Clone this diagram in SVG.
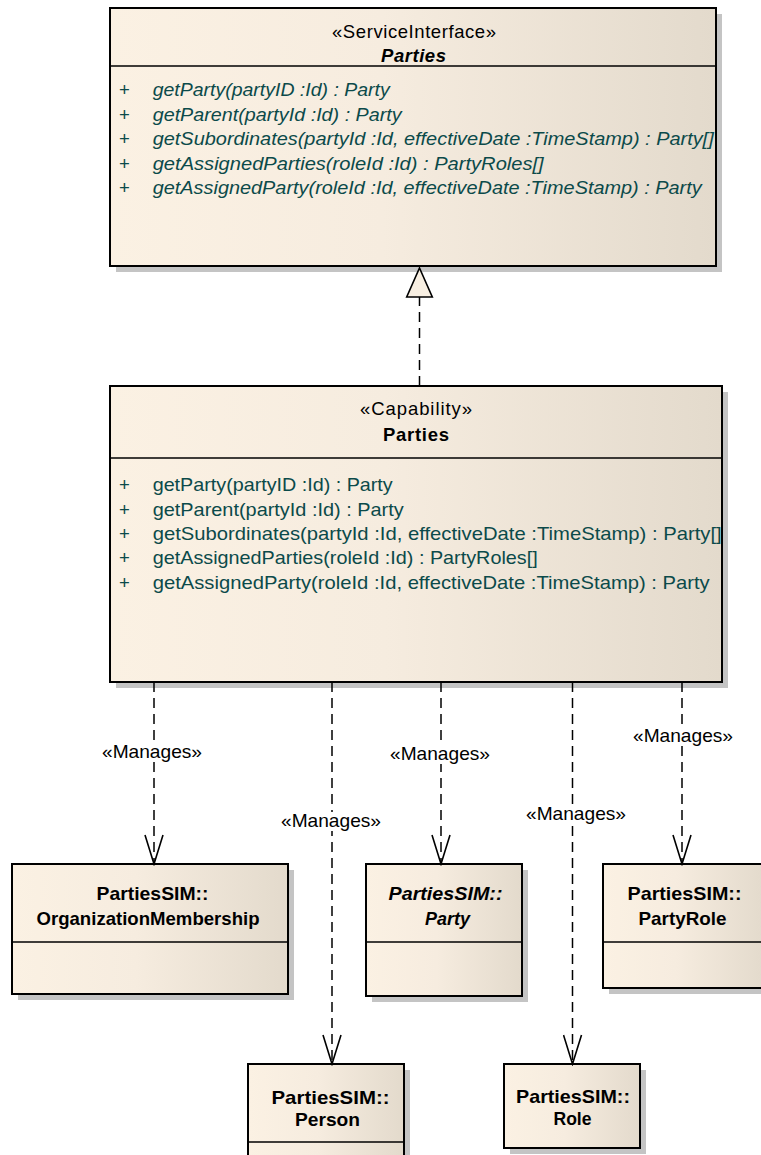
<svg xmlns="http://www.w3.org/2000/svg" width="761" height="1155" viewBox="0 0 761 1155">
<style>
text{font-family:"Liberation Sans",Arial,sans-serif;font-size:18.5px;}
.box{fill:url(#g);stroke:#000;stroke-width:2;}
.sh{fill:#c4c4c4;}
.sep{stroke:#000;stroke-width:1.6;}
.st{fill:#000;text-anchor:middle;}
.nm{fill:#000;text-anchor:middle;font-weight:bold;}
.it{font-style:italic;}
.op{fill:#0b4a4a;}
.pl{fill:#0b4a4a;text-anchor:middle;}
.c{fill:none;stroke:#000;stroke-width:1.5;stroke-dasharray:10,6;}
.lb{fill:#000;text-anchor:middle;}
.bg{fill:#fff;}
</style>
<defs>
<linearGradient id="g" x1="0" y1="0" x2="1" y2="0">
<stop offset="0" stop-color="#fbf1e3"/>
<stop offset="0.45" stop-color="#f6ecdf"/>
<stop offset="1" stop-color="#e3dacc"/>
</linearGradient>
<marker id="open" markerUnits="userSpaceOnUse" markerWidth="22" markerHeight="32" refX="10" refY="30" orient="0" viewBox="0 0 22 32">
<path d="M1,1 L10,30 L19,1" fill="none" stroke="#000" stroke-width="1.6"/>
</marker>
</defs>

<g id="ServiceInterface_Parties">
<rect class="sh" x="116" y="14" width="606" height="258"/>
<rect class="box" x="110" y="8" width="606" height="258"/>
<line class="sep" x1="110" y1="66" x2="716" y2="66"/>
<text class="st" x="414" y="37.5" textLength="164" lengthAdjust="spacing">«ServiceInterface»</text>
<text class="nm it" x="413.5" y="62" textLength="65" lengthAdjust="spacing">Parties</text>
<text class="pl" x="124.5" y="96">+</text>
<text class="pl" x="124.5" y="120.5">+</text>
<text class="pl" x="124.5" y="145">+</text>
<text class="pl" x="124.5" y="169.5">+</text>
<text class="pl" x="124.5" y="194">+</text>
<text class="op it" x="152.7" y="96" textLength="237" lengthAdjust="spacingAndGlyphs">getParty(partyID :Id) : Party</text>
<text class="op it" x="152.7" y="120.5" textLength="249" lengthAdjust="spacingAndGlyphs">getParent(partyId :Id) : Party</text>
<text class="op it" x="152.7" y="145" textLength="561" lengthAdjust="spacingAndGlyphs">getSubordinates(partyId :Id, effectiveDate :TimeStamp) : Party[]</text>
<text class="op it" x="152.7" y="169.5" textLength="391" lengthAdjust="spacingAndGlyphs">getAssignedParties(roleId :Id) : PartyRoles[]</text>
<text class="op it" x="152.7" y="194" textLength="549" lengthAdjust="spacingAndGlyphs">getAssignedParty(roleId :Id, effectiveDate :TimeStamp) : Party</text>
</g>

<g id="Capability_Parties">
<rect class="sh" x="116" y="392" width="612" height="296"/>
<rect class="box" x="110" y="386" width="612" height="296"/>
<line class="sep" x1="110" y1="458" x2="722" y2="458"/>
<text class="st" x="416" y="415" textLength="112" lengthAdjust="spacing">«Capability»</text>
<text class="nm" x="416" y="441" textLength="66" lengthAdjust="spacing">Parties</text>
<text class="pl" x="124.5" y="491">+</text>
<text class="pl" x="124.5" y="515.5">+</text>
<text class="pl" x="124.5" y="540">+</text>
<text class="pl" x="124.5" y="564">+</text>
<text class="pl" x="124.5" y="588.5">+</text>
<text class="op" x="152.7" y="491" textLength="240" lengthAdjust="spacingAndGlyphs">getParty(partyID :Id) : Party</text>
<text class="op" x="152.7" y="515.5" textLength="251" lengthAdjust="spacingAndGlyphs">getParent(partyId :Id) : Party</text>
<text class="op" x="152.7" y="540" textLength="569" lengthAdjust="spacingAndGlyphs">getSubordinates(partyId :Id, effectiveDate :TimeStamp) : Party[]</text>
<text class="op" x="152.7" y="564" textLength="385" lengthAdjust="spacingAndGlyphs">getAssignedParties(roleId :Id) : PartyRoles[]</text>
<text class="op" x="152.7" y="588.5" textLength="557" lengthAdjust="spacingAndGlyphs">getAssignedParty(roleId :Id, effectiveDate :TimeStamp) : Party</text>
</g>

<g id="OrganizationMembership">
<rect class="sh" x="18" y="870" width="276" height="130"/>
<rect class="box" x="12" y="864" width="276" height="130"/>
<line class="sep" x1="12" y1="942" x2="288" y2="942"/>
<text class="nm" x="152.5" y="900" textLength="112" lengthAdjust="spacingAndGlyphs">PartiesSIM::</text>
<text class="nm" x="148" y="925" textLength="223" lengthAdjust="spacingAndGlyphs">OrganizationMembership</text>
</g>

<g id="Party">
<rect class="sh" x="372" y="870" width="156" height="132"/>
<rect class="box" x="366" y="864" width="156" height="132"/>
<line class="sep" x1="366" y1="942" x2="522" y2="942"/>
<text class="nm it" x="445.5" y="900" textLength="114" lengthAdjust="spacingAndGlyphs">PartiesSIM::</text>
<text class="nm it" x="447.5" y="925" textLength="45" lengthAdjust="spacingAndGlyphs">Party</text>
</g>

<g id="PartyRole">
<rect class="sh" x="609" y="870" width="162" height="124"/>
<rect class="box" x="603" y="864" width="162" height="124"/>
<line class="sep" x1="603" y1="942" x2="765" y2="942"/>
<text class="nm" x="684.5" y="900" textLength="114" lengthAdjust="spacingAndGlyphs">PartiesSIM::</text>
<text class="nm" x="682.5" y="925" textLength="88" lengthAdjust="spacingAndGlyphs">PartyRole</text>
</g>

<g id="Person">
<rect class="sh" x="254" y="1070" width="156" height="100"/>
<rect class="box" x="248" y="1064" width="156" height="100"/>
<line class="sep" x1="248" y1="1142" x2="404" y2="1142"/>
<text class="nm" x="330.5" y="1104" textLength="118" lengthAdjust="spacingAndGlyphs">PartiesSIM::</text>
<text class="nm" x="327.5" y="1126" textLength="65" lengthAdjust="spacingAndGlyphs">Person</text>
</g>

<g id="Role">
<rect class="sh" x="510" y="1070" width="136" height="84"/>
<rect class="box" x="504" y="1064" width="136" height="84"/>
<text class="nm" x="573" y="1103" textLength="114" lengthAdjust="spacingAndGlyphs">PartiesSIM::</text>
<text class="nm" x="572.5" y="1125" textLength="38" lengthAdjust="spacingAndGlyphs">Role</text>
</g>

<g id="connectors">
<line class="c" x1="419.5" y1="386" x2="419.5" y2="297"/>
<path d="M419.5,268 L432.3,297 L406.7,297 Z" fill="#f8efe2" stroke="#000" stroke-width="1.6"/>
<line class="c" x1="154" y1="682" x2="154" y2="864" marker-end="url(#open)"/>
<line class="c" x1="332" y1="682" x2="332" y2="1064" marker-end="url(#open)"/>
<line class="c" x1="441" y1="682" x2="441" y2="864" marker-end="url(#open)"/>
<line class="c" x1="572.5" y1="682" x2="572.5" y2="1064" marker-end="url(#open)"/>
<line class="c" x1="682" y1="682" x2="682" y2="864" marker-end="url(#open)"/>
<rect class="bg" x="102" y="743" width="100" height="19"/>
<rect class="bg" x="281" y="812" width="100" height="19"/>
<rect class="bg" x="390" y="745" width="100" height="19"/>
<rect class="bg" x="526" y="805" width="100" height="19"/>
<rect class="bg" x="633" y="727" width="100" height="19"/>
<text class="lb" x="152" y="758" textLength="100" lengthAdjust="spacingAndGlyphs">«Manages»</text>
<text class="lb" x="331" y="827" textLength="100" lengthAdjust="spacingAndGlyphs">«Manages»</text>
<text class="lb" x="440" y="760" textLength="100" lengthAdjust="spacingAndGlyphs">«Manages»</text>
<text class="lb" x="576" y="820" textLength="100" lengthAdjust="spacingAndGlyphs">«Manages»</text>
<text class="lb" x="683" y="742" textLength="100" lengthAdjust="spacingAndGlyphs">«Manages»</text>
</g>
</svg>
